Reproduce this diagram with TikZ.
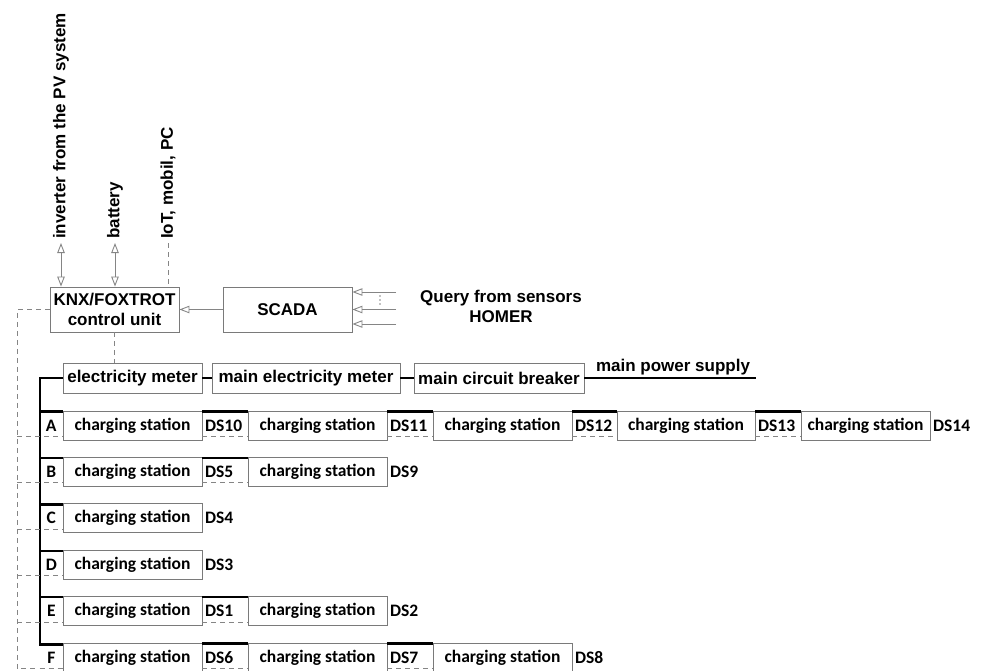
\documentclass[tikz,border=0pt]{standalone}
\usepackage{fontspec}
\setmainfont{Liberation Sans}
\newfontfamily\calfont{Carlito}
\usetikzlibrary{arrows.meta,calc}
\definecolor{boxgray}{HTML}{7A7A7A}
\definecolor{linegray}{HTML}{858585}
\begin{document}
\begin{tikzpicture}[x=1pt,y=-1pt,
  lab/.style={font=\fontsize{17}{20}\selectfont\bfseries, inner sep=0pt},
  ubox/.style={draw=boxgray, line width=0.9pt, inner sep=0pt, minimum width=129pt, minimum height=45pt, align=center, font=\fontsize{17}{20}\selectfont\bfseries},
  mbox/.style={draw=boxgray, line width=0.9pt, inner sep=0pt, minimum height=30pt, font=\fontsize{17}{20}\selectfont\bfseries},
  cs/.style={draw=boxgray, line width=0.9pt, inner sep=0pt, minimum height=29pt, minimum width=139pt, font=\calfont\fontsize{17.5}{20}\selectfont\bfseries},
  ds/.style={inner sep=0pt, font=\calfont\fontsize{17.5}{20}\selectfont\bfseries},
  power/.style={line width=2.4pt, black},
  ctrl/.style={draw=linegray, line width=0.9pt, dash pattern=on 5pt off 4pt},
  sig/.style={draw=linegray, line width=0.9pt},
  oarr/.style={-{Triangle[open, length=10pt, width=7.5pt]}},
  darr/.style={{Triangle[open, length=10pt, width=7.5pt]}-{Triangle[open, length=10pt, width=7.5pt]}}
]
\useasboundingbox (0,0) rectangle (982,670);

% control units
\node[ubox] (knx) at (114.5,309.5) {KNX/FOXTROT\\control unit};
\node[ubox] (scada) at (287.5,309.5) {SCADA};

% top labels and links
\coordinate (inv) at (61,243);
\coordinate (bat) at (115,243);
\coordinate (iot) at (168,243);
\draw[sig, darr] (inv) -- (inv |- knx.north);
\draw[sig, darr] (bat) -- (bat |- knx.north);
\draw[ctrl] (iot) -- (iot |- knx.north);
\node[lab, rotate=90, anchor=west] (invl) at (61,239) {inverter from the PV system};
\node[lab, rotate=90, anchor=west] (batl) at (115,239) {battery};
\node[lab, rotate=90, anchor=west] (iotl) at (168,239) {IoT, mobil, PC};

% SCADA inputs
\coordinate (q1) at (396,292);
\coordinate (q2) at (396,309.5);
\coordinate (q3) at (396,324);
\draw[sig, oarr] (q1) -- (q1 -| scada.east);
\draw[sig, oarr] (q2) -- (q2 -| scada.east);
\draw[sig, oarr] (q3) -- (q3 -| scada.east);
\foreach \yy in {296,300,304} \fill[linegray] (380,\yy) circle (0.8pt);
\node[lab, align=center] (query) at (501,306) {Query from sensors\\HOMER};
\draw[sig, oarr] (scada.west) -- (knx.east);

% meters
\node[mbox, minimum width=139pt] (em) at (132.5,378) {electricity meter};
\node[mbox, minimum width=188pt] (mem) at (306,378) {main electricity meter};
\node[mbox, minimum width=170pt] (mcb) at (499,378) {main circuit breaker};
\coordinate (mps) at (756,378);
\draw[power] (em.east) -- (mem.west);
\draw[power] (mem.east) -- (mcb.west);
\draw[power] (mcb.east) -- (mps);
\node[lab, anchor=base] (mpsl) at (673,371) {main power supply};
\draw[ctrl] (knx.south) -- (knx.south |- em.north);

% charging stations
\node[cs] (a1) at (132.5,425.5) {charging station};
\node[cs] (a2) at (317.5,425.5) {charging station};
\node[cs] (a3) at (502.5,425.5) {charging station};
\node[cs, minimum width=138pt] (a4) at (686,425.5) {charging station};
\node[cs, minimum width=129pt] (a5) at (865.5,425.5) {charging station};
\node[cs] (b1) at (132.5,471.9) {charging station};
\node[cs] (b2) at (317.5,471.9) {charging station};
\node[cs] (c1) at (132.5,518.3) {charging station};
\node[cs] (d1) at (132.5,564.7) {charging station};
\node[cs] (e1) at (132.5,611.1) {charging station};
\node[cs] (e2) at (317.5,611.1) {charging station};
\node[cs] (f1) at (132.5,657.5) {charging station};
\node[cs] (f2) at (317.5,657.5) {charging station};
\node[cs] (f3) at (502.5,657.5) {charging station};

% bus
\coordinate (busx) at (40,0);
\coordinate (ctlx) at (17,0);
\draw[power] (em.west) -- (em.west -| busx) -- ([yshift=-2pt]f1.north west -| busx) -- ([yshift=-2pt]f1.north west);
\foreach \r in {a1,b1,c1,d1,e1}
  \draw[power] ([yshift=-1pt]\r.north west -| busx) -- ([yshift=-1pt]\r.north west);

% control dashed lines
\draw[ctrl] (knx.west) -- (knx.west -| ctlx) -- ([yshift=4pt]f1.south west -| ctlx) -- ([yshift=4pt]f1.south west);
\foreach \r in {a1,b1,c1,d1,e1}
  \draw[ctrl] ([yshift=4pt]\r.south west -| ctlx) -- ([yshift=4pt]\r.south west);

% links between stations
\foreach \p/\q in {a1/a2,a2/a3,a3/a4,a4/a5,b1/b2,e1/e2,f1/f2,f2/f3}{
  \draw[power] ([yshift=-1pt]\p.north east) -- ([yshift=-1pt]\q.north west);
  \draw[ctrl] ([yshift=4pt]\p.south east) -- ([yshift=4pt]\q.south west);
}

% row letters
\foreach \r/\t in {a1/A,b1/B,c1/C,d1/D,e1/E,f1/F}
  \node[ds] (l\r) at ($(\r.west -| busx)!0.5!(\r.west)$) {\t};

% DS labels
\foreach \r/\t in {a1/DS10,a2/DS11,a3/DS12,a4/DS13,a5/DS14,b1/DS5,b2/DS9,c1/DS4,d1/DS3,e1/DS1,e2/DS2,f1/DS6,f2/DS7,f3/DS8}
  \node[ds, anchor=west] (n\r) at ([xshift=2.5pt]\r.east) {\t};
\end{tikzpicture}
\end{document}
